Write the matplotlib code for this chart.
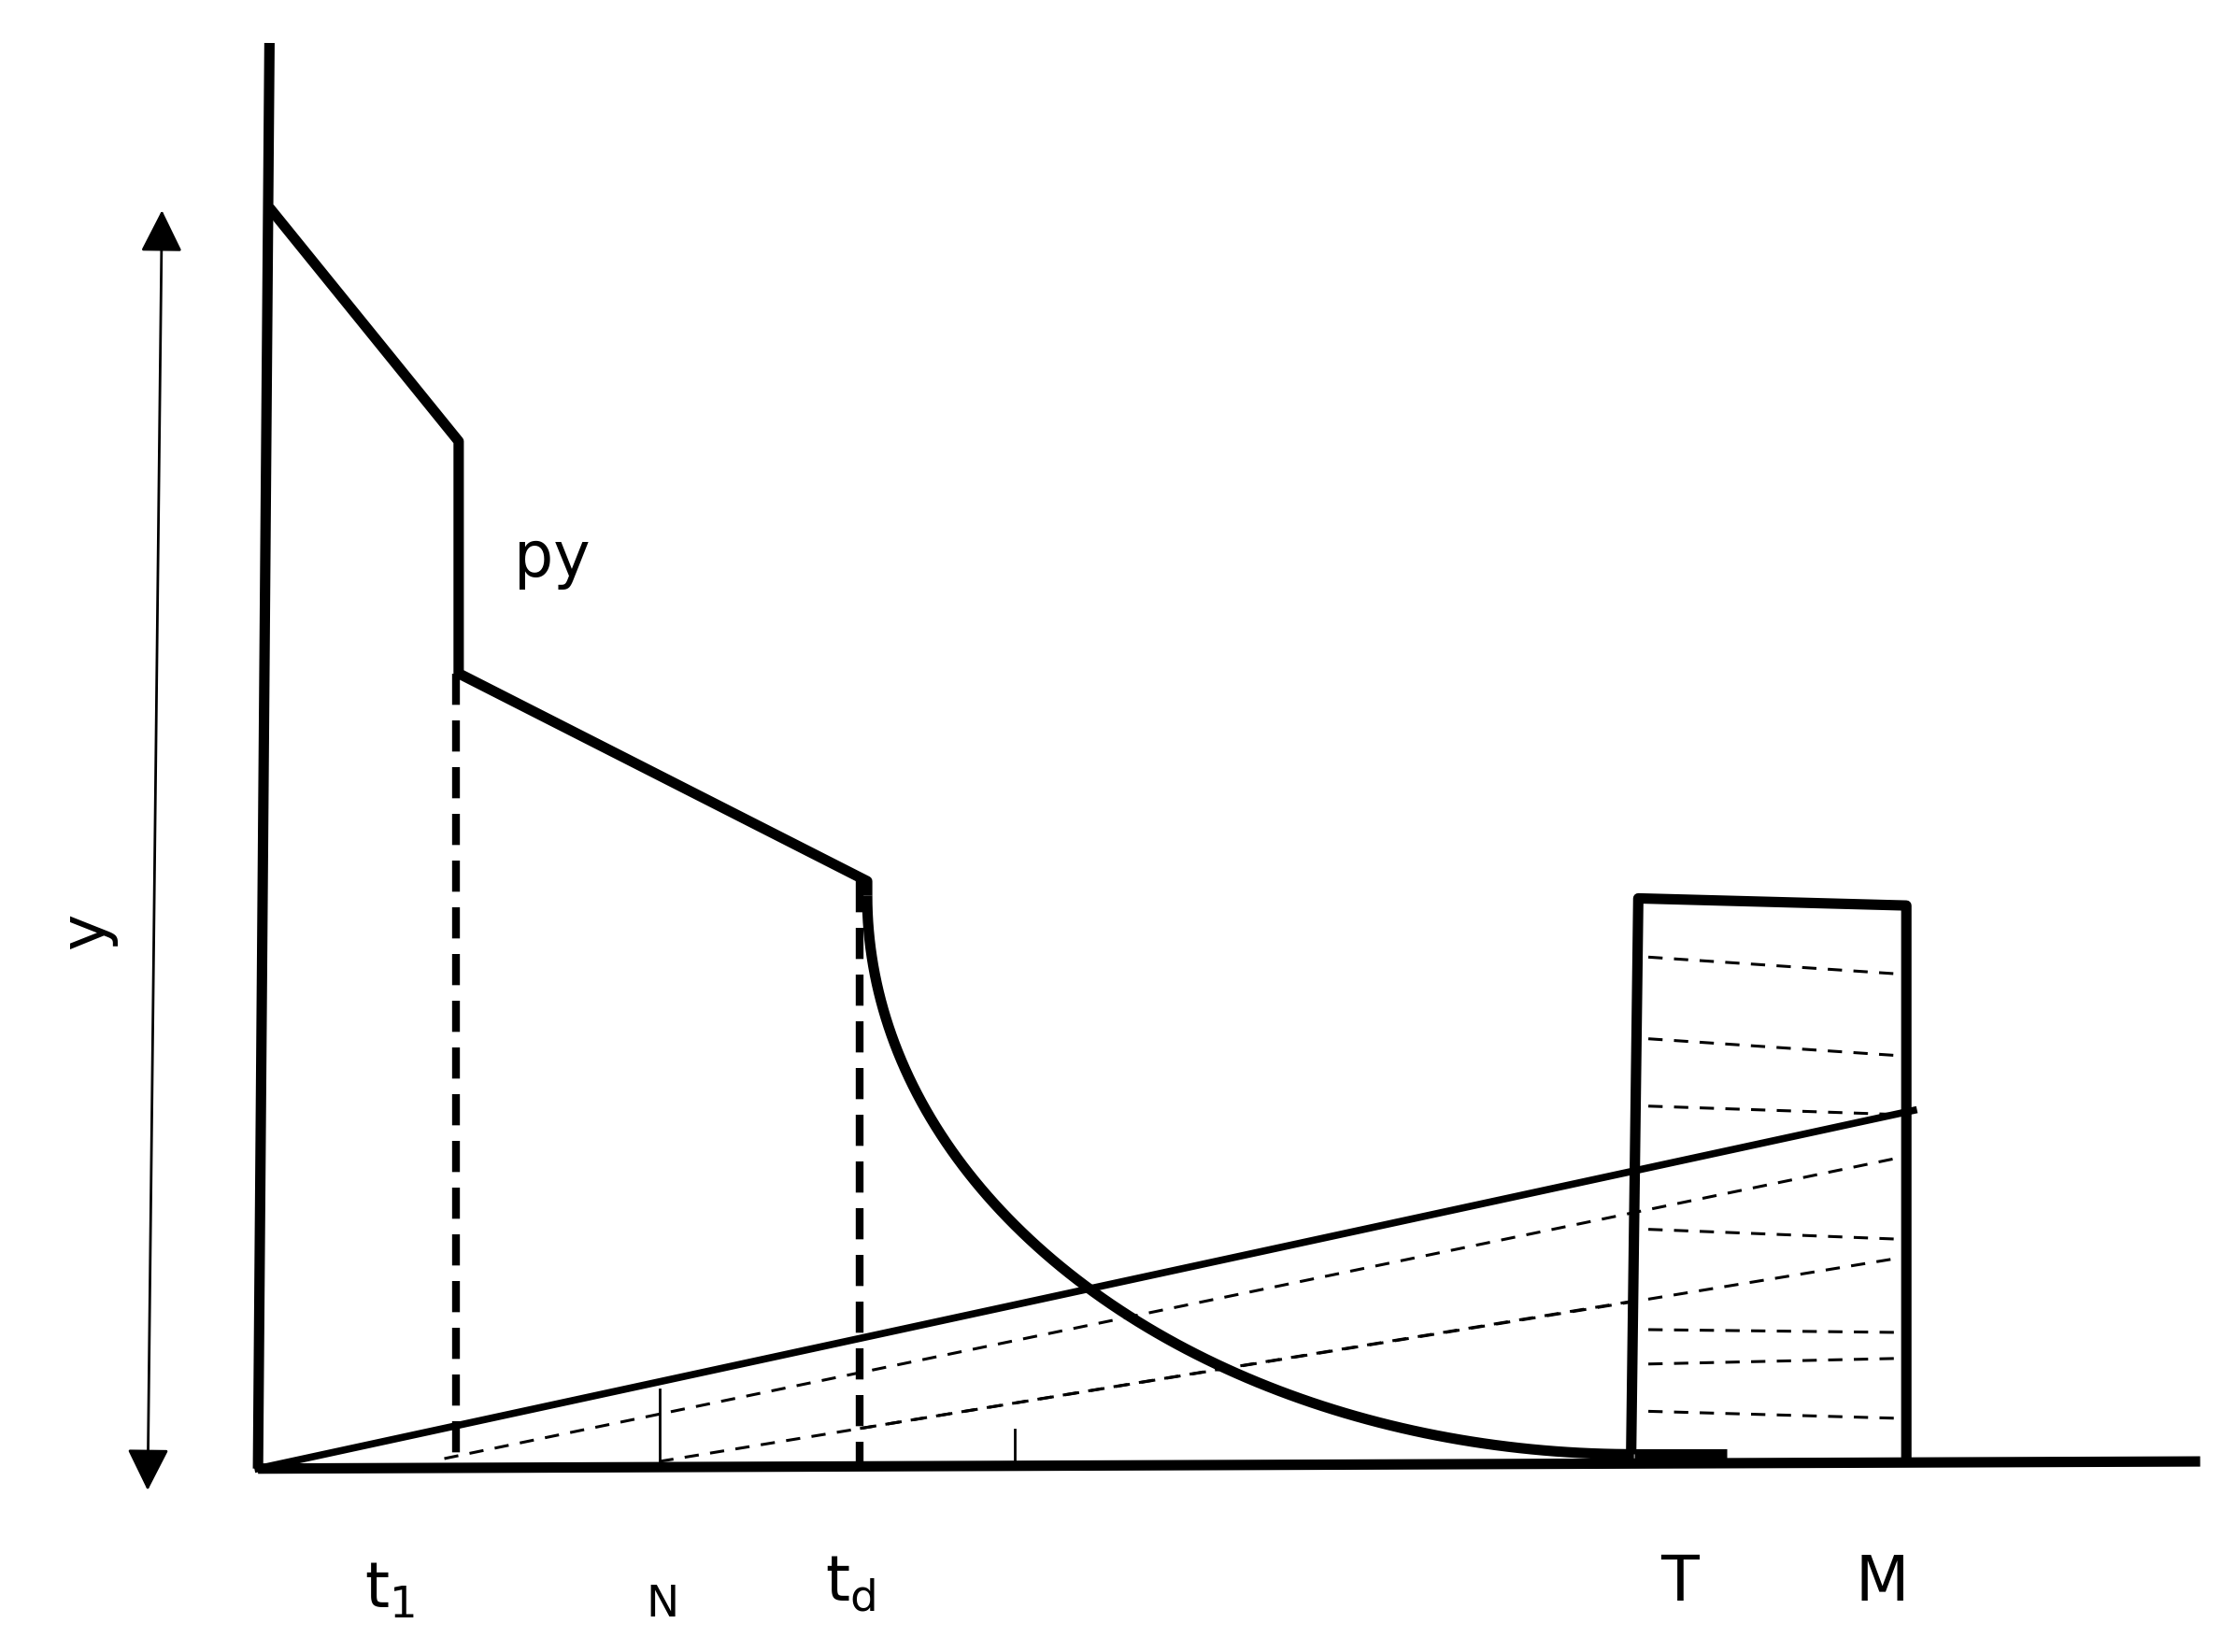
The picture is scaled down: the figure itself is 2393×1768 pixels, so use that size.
import numpy as np
import matplotlib.pyplot as plt

# diagram coordinates (x right, y down, in reference pixel units)
axis_v = ([188, 180], [30, 1025])
axis_h = ([180, 1535], [1025, 1020])
upper_x = [188, 320, 320, 605, 605]
upper_y = [145, 308, 470, 615, 625]
# decay part from td to T
decay_x0, decay_x1 = 605, 1140
decay_y0, decay_y1 = 625, 1015
tail_x = [1140, 1205]
tail_y = [1015, 1015]
rect_x = [1138, 1143, 1330, 1330]
rect_y = [1015, 627, 632, 1020]
ramp_x = [180, 1335]
ramp_y = [1025, 775]
fan_lines = [((310, 1018), (1325, 808)), ((460, 1020), (1325, 878)), ((600, 997), (1140, 908))]
rect_dash_y = [(668, 680), (725, 737), (772, 778), (858, 865), (928, 930), (952, 948), (985, 990)]
vdash = [(318, 470, 1020), (600, 615, 1025)]
ticks = [(460, 970, 1020), (708, 998, 1020)]
labels = [("py", 385, 390), ("t$_\\mathregular{1}$", 272, 1110), ("N", 462, 1120),
          ("t$_\\mathregular{d}$", 593, 1105), ("T", 1172, 1105), ("M", 1313, 1105)]

fig = plt.figure(figsize=(23.93, 17.68), dpi=100)
ax = fig.add_axes([0, 0, 1, 1])
ax.set_xlim(0, 1560)
ax.set_ylim(1153, 0)
ax.axis('off')
lw = 8
k = dict(color='black', lw=lw, solid_capstyle='butt')
ax.plot(*axis_v, **k)
ax.plot(*axis_h, **k)
ax.plot(upper_x, upper_y, **k)
t = np.linspace(0, 1, 200)
xs = decay_x0 + (decay_x1 - decay_x0) * (1 - np.cos(t * np.pi / 2))
ys = decay_y0 + (decay_y1 - decay_y0) * np.sin(t * np.pi / 2)
ax.plot(xs, ys, **k)
ax.plot(tail_x, tail_y, **k)
ax.plot(rect_x, rect_y, **k)
ax.plot(ramp_x, ramp_y, color='black', lw=5.5)
for (x0, y0), (x1, y1) in fan_lines:
    ax.plot([x0, x1], [y0, y1], color='black', lw=2.2, ls=(0, (5, 4)))
for y0, y1 in rect_dash_y:
    ax.plot([1150, 1328], [y0, y1], color='black', lw=2.2, ls=(0, (5, 4)))
for x, y0, y1 in vdash:
    ax.plot([x, x], [y0, y1], color='black', lw=6, ls=(0, (4, 2)))
for x, y0, y1 in ticks:
    ax.plot([x, x], [y0, y1], color='black', lw=2)
ax.annotate('', xy=(103, 1042), xytext=(113, 145),
            arrowprops=dict(arrowstyle='<|-|>', color='black', lw=2, mutation_scale=70))
ax.text(60, 650, 'y', rotation=90, fontsize=48, ha='center', va='center')
for s, x, y in labels:
    ax.text(x, y, s, fontsize=48 if s != "N" else 34, ha='center', va='center')
fig.savefig('out.png', dpi=100)
